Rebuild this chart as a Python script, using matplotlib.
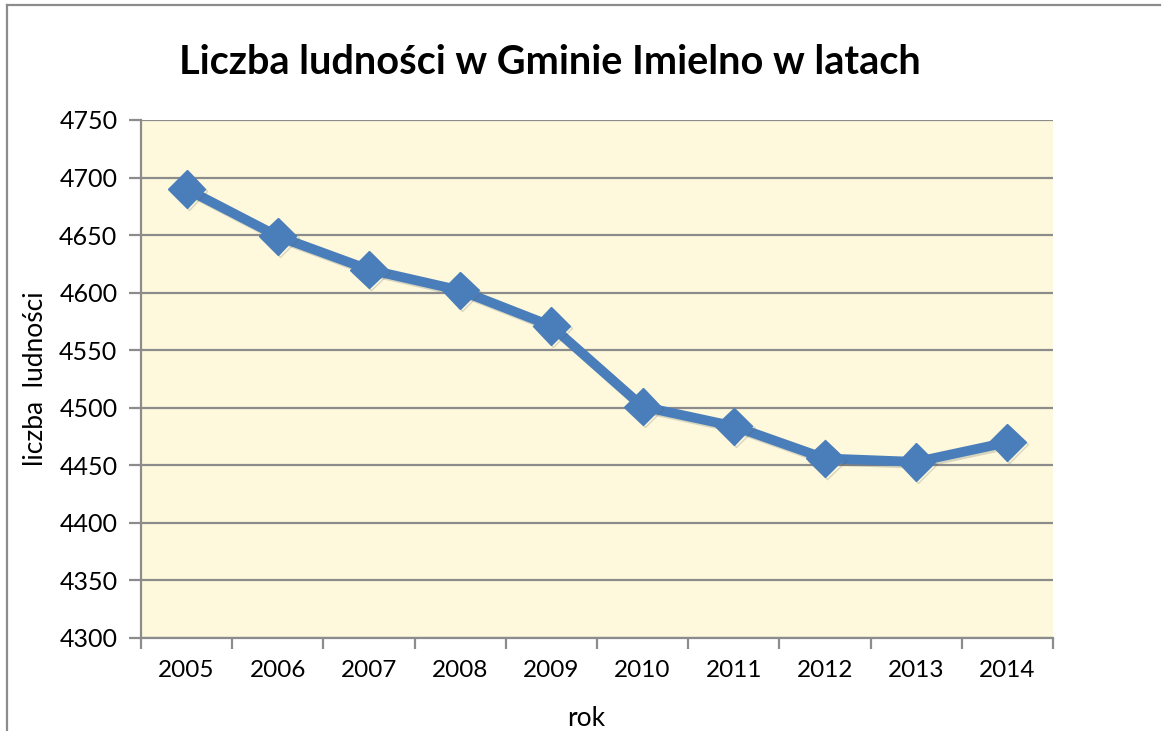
import matplotlib.pyplot as plt
import matplotlib.patheffects as pe
from matplotlib.lines import Line2D

years = ["2005", "2006", "2007", "2008", "2009", "2010", "2011", "2012", "2013", "2014"]
population = [4690, 4649, 4620, 4602, 4571, 4501, 4484, 4456, 4453, 4470]
y_ticks = [4300, 4350, 4400, 4450, 4500, 4550, 4600, 4650, 4700, 4750]

plt.rcParams["font.family"] = ["Lato", "DejaVu Sans"]
grey = "#8c8c8c"

fig = plt.figure(figsize=(11.65, 7.31), dpi=100)
ax = fig.add_axes([141 / 1165, 1 - 638 / 731, (1053 - 141) / 1165, (638 - 120) / 731])
ax.set_facecolor("#fef9dc")

x = list(range(1, len(years) + 1))
ax.plot(x, population, color="#4a7ebb", lw=7, marker="D", ms=19,
        solid_joinstyle="round", zorder=3,
        path_effects=[pe.SimpleLineShadow(offset=(1.5, -1.5), shadow_color="#555555", alpha=0.22),
                      pe.Normal()])

ax.set_xlim(0.5, len(years) + 0.5)
ax.set_ylim(4300, 4750)
ax.set_yticks(y_ticks)
ax.grid(axis="y", color=grey, lw=1.6)
ax.set_axisbelow(True)

# category ticks between groups, labels centred
ax.set_xticks([i + 0.5 for i in range(0, len(years) + 1)])
ax.set_xticklabels([])
ax.set_xticks(x, minor=True)
ax.set_xticklabels(years, minor=True)
ax.tick_params(axis="x", which="major", length=8, width=1.6, color=grey)
ax.tick_params(axis="x", which="minor", length=0, pad=16, labelsize=17.5)
ax.tick_params(axis="y", length=9, width=1.6, color=grey, pad=8, labelsize=18)

for s in ["top", "right"]:
    ax.spines[s].set_visible(False)
for s in ["left", "bottom"]:
    ax.spines[s].set_color(grey)
    ax.spines[s].set_linewidth(1.6)

ax.set_ylabel("liczba  ludności", fontsize=19, labelpad=8)
fig.text(586 / 1165, 1 - 719 / 731, "rok", ha="center", va="center", fontsize=19)

fig.text(550 / 1165, 1 - 63 / 731, "Liczba ludności w Gminie Imielno w latach",
         ha="center", va="center", fontsize=28.5, fontweight="bold")

# outer frame of the chart object
fig.add_artist(Line2D([7 / 1165, 7 / 1165], [0, 1 - 5 / 731], color=grey, lw=1.6))
fig.add_artist(Line2D([7 / 1165, 1160 / 1165], [1 - 5 / 731, 1 - 5 / 731], color=grey, lw=1.6))

fig.savefig("out.png", dpi=100)
